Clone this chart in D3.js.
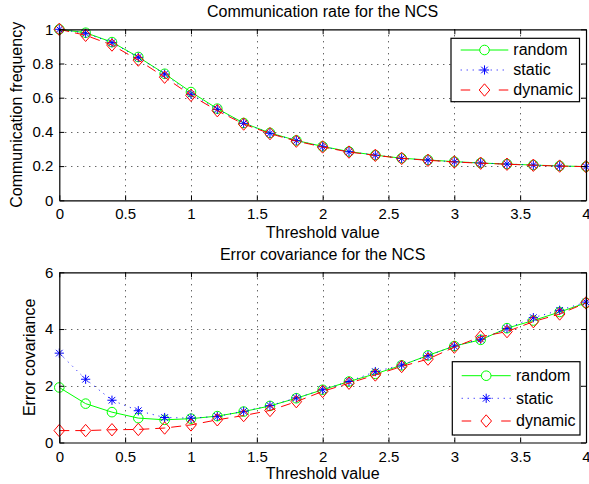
<!DOCTYPE html>
<html>
<head>
<meta charset="utf-8">
<script src="https://cdn.jsdelivr.net/npm/d3@7"></script>
<style>
  html, body { margin: 0; padding: 0; background: #fff; }
  svg { display: block; font-family: "Liberation Sans", Arial, Helvetica, sans-serif; }
</style>
</head>
<body>
<svg id="chart" width="589" height="484"></svg>
<script>
// ---------------- DATA ----------------
const thresholds = [0, 0.2, 0.4, 0.6, 0.8, 1.0, 1.2, 1.4, 1.6, 1.8, 2.0, 2.2, 2.4, 2.6, 2.8, 3.0, 3.2, 3.4, 3.6, 3.8, 4.0];

const commRandom  = [1.0, 0.98, 0.925, 0.838, 0.74, 0.633, 0.536, 0.452, 0.394, 0.35, 0.315, 0.285, 0.264, 0.246, 0.236, 0.226, 0.218, 0.212, 0.206, 0.201, 0.197];
const commStatic  = [1.0, 0.977, 0.922, 0.836, 0.738, 0.62, 0.532, 0.45, 0.392, 0.349, 0.313, 0.284, 0.264, 0.245, 0.235, 0.225, 0.218, 0.212, 0.206, 0.2, 0.197];
const commDynamic = [1.0, 0.965, 0.908, 0.82, 0.72, 0.614, 0.524, 0.446, 0.39, 0.346, 0.312, 0.282, 0.263, 0.245, 0.234, 0.224, 0.217, 0.211, 0.205, 0.2, 0.197];

const errRandom  = [1.94, 1.37, 1.07, 0.86, 0.80, 0.84, 0.93, 1.09, 1.29, 1.56, 1.86, 2.15, 2.42, 2.72, 3.07, 3.40, 3.62, 4.03, 4.30, 4.60, 4.92];
const errStatic  = [3.15, 2.23, 1.49, 1.12, 0.88, 0.86, 0.92, 1.10, 1.30, 1.57, 1.86, 2.15, 2.50, 2.73, 3.06, 3.40, 3.64, 4.02, 4.40, 4.66, 4.95];
const errDynamic = [0.42, 0.42, 0.45, 0.46, 0.51, 0.62, 0.80, 0.95, 1.13, 1.44, 1.80, 2.09, 2.38, 2.68, 2.94, 3.36, 3.73, 3.91, 4.26, 4.53, 4.92];

const seriesNames = ["random", "static", "dynamic"];
const xTicks = [0, 0.5, 1, 1.5, 2, 2.5, 3, 3.5, 4];
const commTicks = [0, 0.2, 0.4, 0.6, 0.8, 1];
const errTicks = [0, 2, 4, 6];

const titles = ["Communication rate for the NCS", "Error covariance for the NCS"];
const yLabels = ["Communication frequency", "Error covariance"];
const xLabel = "Threshold value";

// ---------------- STYLES ----------------
const styles = {
  random:  { color: "#00ff00", dash: null,     marker: "circle" },
  static:  { color: "#0000ff", dash: "1,5",    marker: "star" },
  dynamic: { color: "#ff0000", dash: "10,6",   marker: "diamond" }
};

const svg = d3.select("#chart");
const FONT_TICK = 15, FONT_TXT = 16;

const L = 59.3, R = 586;

function markerPath(type) {
  if (type === "diamond") {
    const w = 5.3, h = 6.2;
    return `M0,${-h}L${w},0L0,${h}L${-w},0Z`;
  }
  if (type === "star") {
    const h = 4.6, d = h * 0.72;
    return `M${-h},0L${h},0M0,${-h}L0,${h}M${-d},${-d}L${d},${d}M${-d},${d}L${d},${-d}`;
  }
  return null;
}

function drawMarker(g, type, color) {
  if (type === "circle") {
    return g.append("circle").attr("r", 4.8).attr("fill", "none").attr("stroke", color).attr("stroke-width", 1);
  }
  return g.append("path").attr("d", markerPath(type)).attr("fill", "none").attr("stroke", color).attr("stroke-width", 1);
}

function panel(cfg) {
  const x = d3.scaleLinear().domain([0, 4]).range([L, R]);
  const y = d3.scaleLinear().domain(cfg.yDomain).range([cfg.bottom, cfg.top]);
  const g = svg.append("g");

  // grid
  const grid = g.append("g").attr("stroke", "#000").attr("stroke-width", 1).attr("stroke-dasharray", "1,5").attr("opacity", 0.85);
  xTicks.filter(t => t > 0 && t < 4).forEach(t => {
    grid.append("line").attr("x1", Math.round(x(t)) + 0.5).attr("x2", Math.round(x(t)) + 0.5)
      .attr("y1", cfg.top).attr("y2", cfg.bottom);
  });
  cfg.yTicks.filter(t => t > cfg.yDomain[0] && t < cfg.yDomain[1]).forEach(t => {
    grid.append("line").attr("y1", Math.round(y(t)) + 0.5).attr("y2", Math.round(y(t)) + 0.5)
      .attr("x1", L).attr("x2", R);
  });

  // series
  const data = cfg.series;
  seriesNames.forEach((name, i) => {
    const st = styles[name];
    const vals = data[i];
    const pts = thresholds.map((t, j) => [t, vals[j]]);
    const line = d3.line().x(d => x(d[0])).y(d => y(d[1]));
    g.append("path").attr("d", line(pts)).attr("fill", "none")
      .attr("stroke", st.color).attr("stroke-width", 1)
      .attr("stroke-dasharray", st.dash);
    const mg = g.append("g");
    pts.forEach(p => {
      const m = mg.append("g").attr("transform", `translate(${x(p[0])},${y(p[1])})`);
      drawMarker(m, st.marker, st.color);
    });
  });

  // axes (ticks inside on all sides)
  const ax = d3.axisBottom(x).tickValues(xTicks).tickSizeInner(-5).tickSizeOuter(0).tickPadding(8.5)
    .tickFormat(d3.format("~g"));
  const axG = g.append("g").attr("transform", `translate(0,${cfg.bottom})`).call(ax);
  const ay = d3.axisLeft(y).tickValues(cfg.yTicks).tickSizeInner(-5).tickSizeOuter(0).tickPadding(6)
    .tickFormat(d3.format("~g"));
  const ayG = g.append("g").attr("transform", `translate(${L},0)`).call(ay);
  const axT = d3.axisTop(x).tickValues(xTicks).tickSizeInner(-5).tickSizeOuter(0).tickFormat("");
  const axTG = g.append("g").attr("transform", `translate(0,${cfg.top})`).call(axT);
  const ayR = d3.axisRight(y).tickValues(cfg.yTicks).tickSizeInner(-5).tickSizeOuter(0).tickFormat("");
  const ayRG = g.append("g").attr("transform", `translate(${R},0)`).call(ayR);
  [axG, ayG, axTG, ayRG].forEach(a => {
    a.selectAll("path.domain").attr("stroke", "#000").attr("stroke-width", 1.2);
    a.selectAll(".tick line").attr("stroke", "#000").attr("stroke-width", 1);
    a.selectAll("text").attr("font-size", FONT_TICK).attr("fill", "#000")
      .attr("font-family", '"Liberation Sans", Arial, Helvetica, sans-serif');
  });

  // title & labels
  g.append("text").attr("x", (L + R) / 2).attr("y", cfg.titleY).attr("text-anchor", "middle")
    .attr("font-size", FONT_TXT).text(cfg.title);
  g.append("text").attr("x", (L + R) / 2).attr("y", cfg.xLabelY).attr("text-anchor", "middle")
    .attr("font-size", FONT_TXT).text(xLabel);
  g.append("text").attr("transform", `translate(${cfg.yLabelX},${(cfg.top + cfg.bottom) / 2}) rotate(-90)`)
    .attr("text-anchor", "middle").attr("font-size", FONT_TXT).text(cfg.yLabel);

  // legend
  const lg = cfg.legend;
  const lgG = g.append("g");
  lgG.append("rect").attr("x", lg.x0).attr("y", lg.y0).attr("width", lg.x1 - lg.x0).attr("height", lg.y1 - lg.y0)
    .attr("fill", "#fff").attr("stroke", "#000").attr("stroke-width", 1.2);
  seriesNames.forEach((name, i) => {
    const st = styles[name];
    const ry = lg.rows[i];
    const len = lg.lineX1 - lg.lineX0;
    let dash = st.dash;
    if (name === "dynamic") dash = `9.5,${len - 19}`;
    lgG.append("line").attr("x1", lg.lineX0).attr("x2", lg.lineX1).attr("y1", ry).attr("y2", ry)
      .attr("stroke", st.color).attr("stroke-width", 1).attr("stroke-dasharray", dash);
    const m = lgG.append("g").attr("transform", `translate(${(lg.lineX0 + lg.lineX1) / 2},${ry})`);
    if (st.marker === "circle") {
      m.append("circle").attr("r", 4.8).attr("fill", "#fff").attr("stroke", st.color);
    } else {
      m.append("path").attr("d", markerPath(st.marker)).attr("fill", st.marker === "diamond" ? "#fff" : "none").attr("stroke", st.color);
    }
    lgG.append("text").attr("x", lg.textX).attr("y", ry + 5.2).attr("font-size", FONT_TXT).text(name);
  });
}

panel({
  top: 29.3, bottom: 200.3, yDomain: [0, 1], yTicks: commTicks,
  series: [commRandom, commStatic, commDynamic],
  title: titles[0], titleY: 17, xLabelY: 238, yLabel: yLabels[0], yLabelX: 21.8,
  legend: { x0: 451, x1: 579.5, y0: 38.3, y1: 101.7, rows: [50, 70, 90], lineX0: 460.7, lineX1: 508.3, textX: 513.3 }
});

panel({
  top: 272.3, bottom: 442.5, yDomain: [0, 6], yTicks: errTicks,
  series: [errRandom, errStatic, errDynamic],
  title: titles[1], titleY: 260, xLabelY: 478.5, yLabel: yLabels[1], yLabelX: 34.5,
  legend: { x0: 452.3, x1: 580, y0: 361.7, y1: 435, rows: [375.7, 398.3, 421], lineX0: 461.7, lineX1: 510.7, textX: 516 }
});
</script>
</body>
</html>
